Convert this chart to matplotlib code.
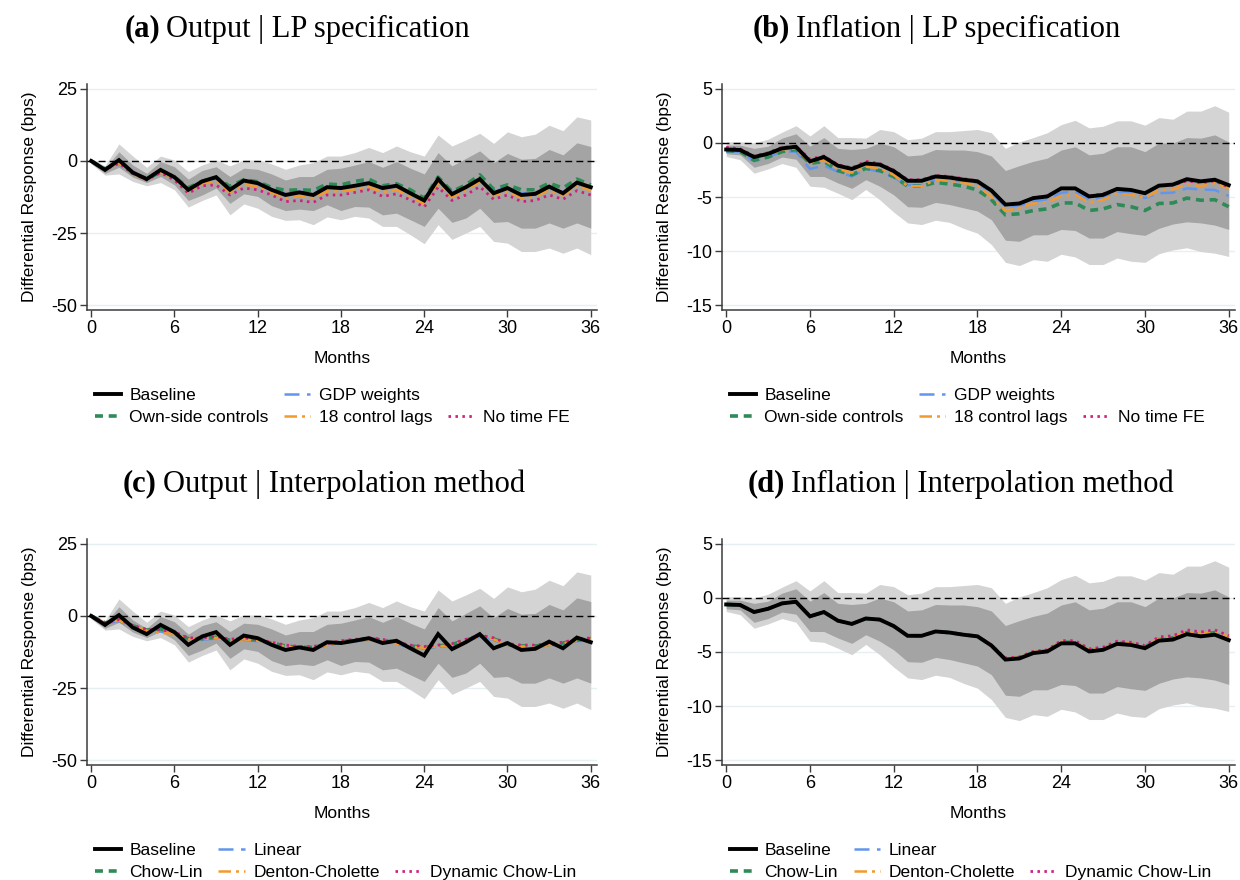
import matplotlib
matplotlib.use("Agg")
import matplotlib.pyplot as plt
from matplotlib.lines import Line2D
import numpy as np

plt.rcParams['font.family'] = ['Liberation Sans', 'DejaVu Sans']
plt.rcParams['axes.unicode_minus'] = False

months = np.arange(37)

# ---- Output (panels a, c): baseline and confidence bands
out_base = [0, -3.1, 0.3, -4.0, -6.3, -3.1, -5.6, -10.0, -7.1, -5.6, -10.0, -6.8, -7.7, -10.0, -11.8, -10.9, -11.8, -9.1,
            -9.4, -8.6, -7.7, -9.4, -8.6, -11.2, -13.7, -6.3, -11.5, -9.1, -6.3, -11.2, -9.4, -11.8, -11.4, -8.9, -11.2, -7.5, -9.1]
out_hi90 = [0.9, -1.7, 5.9, 1.7, -2.2, 1.7, 0.3, -3.7, -1.4, 0.3, -1.7, 0.3, 0.3, -1.0, -2.9, -1.4, -0.6, 1.7,
            1.7, 2.9, 4.7, 2.9, 5.2, 3.2, 1.7, 9.0, 5.2, 7.3, 9.6, 6.1, 10.1, 8.4, 9.3, 12.4, 10.5, 15.3, 14.2]
out_hi68 = [0.3, -2.5, 3.2, -1.4, -4.3, -0.2, -2.0, -6.3, -3.3, -2.0, -5.4, -2.5, -2.9, -4.5, -6.6, -5.4, -5.4, -2.9,
            -2.5, -1.4, -0.2, -2.2, -0.2, -2.5, -4.5, 2.9, -1.7, 0.9, 3.5, -0.6, 2.6, 0.6, 0.9, 4.0, 2.1, 6.3, 5.0]
out_lo68 = [-0.8, -4.3, -2.2, -5.6, -7.5, -5.4, -8.3, -13.7, -11.8, -9.4, -14.7, -11.4, -12.3, -15.5, -17.2, -16.7, -17.2, -15.2,
            -17.2, -15.8, -16.0, -18.7, -18.1, -20.4, -22.7, -16.4, -21.3, -19.8, -16.4, -21.3, -21.0, -23.3, -23.3, -21.5, -23.3, -21.5, -23.3]
out_lo90 = [-1.0, -4.9, -4.5, -7.1, -8.6, -7.5, -10.0, -16.0, -13.7, -11.8, -18.7, -14.9, -16.4, -19.2, -20.6, -20.4, -22.1, -19.4,
            -20.4, -19.2, -19.8, -22.7, -22.7, -25.6, -28.7, -22.1, -27.2, -25.0, -22.7, -27.9, -28.5, -31.4, -31.4, -30.2, -32.0, -30.2, -32.5]

# panel a alternatives
out_gdp = [0, -2.8, -1.0, -4.5, -6.2, -4.0, -5.8, -9.8, -7.2, -6.0, -9.5, -7.0, -7.5, -9.8, -11.2, -10.6, -11.2, -8.8,
           -9.0, -8.2, -7.5, -9.6, -8.6, -10.8, -12.8, -6.6, -11.0, -9.0, -6.5, -10.5, -9.2, -11.2, -11.0, -9.3, -10.8, -7.8, -9.2]
out_own = [0, -2.8, -0.5, -4.3, -6.0, -4.0, -5.5, -9.3, -7.0, -5.8, -8.8, -6.5, -7.2, -9.2, -10.2, -10.0, -10.2, -8.0,
           -8.3, -7.1, -6.3, -8.6, -7.9, -10.0, -12.9, -5.6, -10.6, -8.3, -4.8, -9.8, -8.3, -10.0, -10.0, -7.7, -9.4, -6.3, -8.3]
out_lags = [0, -3.0, -0.8, -4.5, -6.5, -4.0, -6.0, -10.5, -8.0, -6.8, -10.8, -8.2, -8.8, -11.0, -12.8, -12.0, -12.8, -10.5,
            -10.5, -9.8, -9.0, -10.8, -10.0, -12.2, -15.0, -7.5, -12.5, -10.2, -7.2, -12.0, -10.5, -12.8, -12.4, -10.0, -12.0, -8.5, -10.2]
out_nofe = [0, -3.0, -0.8, -4.3, -6.6, -4.0, -6.6, -11.2, -8.6, -8.3, -11.8, -9.4, -10.0, -11.8, -14.1, -13.7, -14.4, -11.8,
            -11.8, -10.9, -10.0, -12.3, -11.4, -13.5, -16.0, -9.1, -13.7, -11.8, -8.9, -13.3, -11.8, -14.1, -13.7, -11.8, -13.3, -10.3, -11.8]

# panel c alternatives
out_linear = [0, -2.6, -1.8, -3.8, -5.3, -5.4, -6.3, -8.2, -8.3, -7.8, -8.8, -8.3, -8.8, -9.8, -10.8, -11.2, -11.2, -10.2,
              -9.3, -8.8, -8.3, -8.8, -9.8, -10.8, -11.3, -10.8, -10.3, -8.8, -7.3, -8.3, -10.2, -10.8, -10.8, -10.3, -9.8, -8.8, -8.4]
out_chowlin = [0, -2.4, -1.4, -3.4, -4.9, -4.5, -5.9, -7.9, -7.9, -7.4, -8.4, -7.9, -8.4, -9.4, -10.4, -10.9, -10.9, -9.9,
               -8.9, -8.4, -7.9, -8.4, -9.4, -10.4, -10.9, -10.4, -9.9, -8.4, -6.9, -7.9, -9.9, -10.4, -10.4, -9.9, -9.4, -8.4, -7.9]
out_denton = [0, -2.5, -1.6, -3.6, -5.1, -5.9, -6.1, -8.1, -8.1, -7.6, -8.6, -8.1, -8.6, -9.6, -10.6, -11.1, -11.1, -10.1,
              -9.1, -8.6, -8.1, -8.6, -9.6, -10.6, -11.1, -10.6, -10.1, -8.6, -7.1, -8.1, -10.1, -10.6, -10.6, -10.1, -9.6, -8.6, -8.1]
out_dynamic = [0, -2.3, -1.3, -3.3, -4.7, -4.8, -5.6, -7.6, -7.6, -7.1, -8.1, -7.6, -8.1, -9.1, -10.1, -10.6, -10.6, -9.6,
               -8.6, -8.1, -7.6, -8.1, -9.1, -10.1, -10.6, -10.1, -9.6, -8.1, -6.6, -7.6, -9.6, -10.1, -10.1, -9.6, -9.1, -8.1, -7.6]

# ---- Inflation (panels b, d)
inf_base = [-0.6, -0.65, -1.3, -1.0, -0.5, -0.35, -1.7, -1.3, -2.1, -2.4, -1.9, -2.0, -2.6, -3.5, -3.5, -3.1, -3.2, -3.4,
            -3.55, -4.4, -5.7, -5.6, -5.1, -4.95, -4.2, -4.2, -4.95, -4.8, -4.25, -4.35, -4.65, -3.95, -3.85, -3.35, -3.55, -3.4, -3.9]
inf_hi90 = [0.1, 0.1, 0.0, 0.35, 1.0, 1.6, 0.65, 1.6, 0.5, 0.5, 0.45, 1.25, 1.05, 0.3, 0.45, 1.05, 1.05, 1.15,
            1.25, 0.95, -0.5, 0.1, 0.5, 0.95, 1.7, 2.1, 1.4, 1.55, 2.05, 2.05, 1.65, 2.35, 2.2, 2.95, 2.95, 3.45, 2.85]
inf_hi68 = [-0.2, -0.2, -0.5, -0.3, 0.45, 0.85, -0.3, 0.5, -0.5, -0.6, -0.5, 0.0, -0.35, -1.2, -1.1, -0.6, -0.65, -0.65,
            -0.8, -1.2, -2.55, -2.1, -1.7, -1.4, -0.65, -0.35, -1.1, -0.95, -0.35, -0.35, -0.8, 0.0, 0.0, 0.5, 0.45, 0.75, 0.1]
inf_lo68 = [-1.0, -1.1, -2.25, -1.9, -1.3, -1.5, -3.1, -3.1, -3.7, -4.2, -3.4, -4.0, -4.8, -5.9, -5.95, -5.5, -5.7, -6.0,
            -6.3, -7.1, -9.0, -9.1, -8.5, -8.5, -8.0, -8.1, -8.8, -8.8, -8.2, -8.4, -8.55, -7.9, -7.5, -7.3, -7.4, -7.6, -8.0]
inf_lo90 = [-1.25, -1.55, -2.8, -2.4, -1.9, -2.25, -4.0, -4.1, -4.65, -5.25, -4.3, -5.25, -6.4, -7.4, -7.55, -7.15, -7.35, -7.9,
            -8.35, -9.4, -11.05, -11.35, -10.8, -10.95, -10.3, -10.55, -11.25, -11.25, -10.65, -10.95, -11.05, -10.25, -9.9, -9.7, -10.05, -10.2, -10.5]

# panel b alternatives
inf_gdp = [-0.8, -0.8, -1.7, -1.3, -0.8, -0.8, -2.4, -2.1, -2.65, -3.1, -2.4, -2.65, -3.2, -3.9, -3.9, -3.4, -3.4, -3.6,
           -3.7, -4.65, -5.9, -5.8, -5.4, -5.2, -4.6, -4.5, -5.25, -5.0, -4.5, -4.65, -5.1, -4.65, -4.6, -4.2, -4.3, -4.35, -4.9]
inf_own = [-0.7, -0.8, -1.6, -1.3, -0.8, -0.6, -1.9, -1.7, -2.55, -2.95, -2.35, -2.55, -3.1, -4.0, -4.0, -3.65, -3.8, -4.0,
           -4.35, -5.25, -6.65, -6.55, -6.25, -6.1, -5.55, -5.55, -6.25, -6.1, -5.7, -5.9, -6.25, -5.6, -5.55, -5.1, -5.3, -5.25, -5.9]
inf_lags = [-0.5, -0.6, -1.3, -1.1, -0.6, -0.5, -1.8, -1.55, -2.4, -2.75, -2.2, -2.35, -2.95, -4.0, -4.0, -3.4, -3.5, -3.7,
            -3.9, -5.0, -6.3, -6.0, -5.6, -5.5, -4.9, -4.8, -5.5, -5.25, -4.7, -4.8, -5.1, -4.35, -4.3, -3.8, -4.0, -3.7, -4.2]
inf_nofe = [-0.4, -0.55, -1.2, -0.9, -0.4, -0.3, -1.5, -1.2, -2.0, -2.3, -1.7, -1.9, -2.5, -3.4, -3.4, -3.0, -3.1, -3.3,
            -3.5, -4.4, -5.7, -5.6, -5.1, -4.9, -4.2, -4.2, -4.9, -4.7, -4.3, -4.4, -4.6, -4.0, -3.9, -3.5, -3.7, -3.5, -4.1]

# panel d alternatives
inf_linear = [-0.6, -0.65, -1.3, -1.0, -0.5, -0.35, -1.7, -1.3, -2.1, -2.4, -1.9, -2.0, -2.6, -3.5, -3.5, -3.1, -3.2, -3.4,
              -3.55, -4.4, -5.65, -5.55, -5.05, -4.9, -4.1, -4.1, -4.85, -4.7, -4.15, -4.25, -4.55, -3.8, -3.7, -3.2, -3.4, -3.2, -3.7]
inf_chowlin = [-0.6, -0.65, -1.3, -1.0, -0.5, -0.35, -1.7, -1.3, -2.1, -2.4, -1.9, -2.0, -2.6, -3.5, -3.5, -3.1, -3.2, -3.4,
               -3.55, -4.4, -5.65, -5.55, -5.05, -4.9, -4.1, -4.1, -4.85, -4.7, -4.15, -4.25, -4.55, -3.8, -3.7, -3.2, -3.4, -3.2, -3.7]
inf_denton = [-0.6, -0.65, -1.3, -1.0, -0.5, -0.35, -1.7, -1.3, -2.1, -2.4, -1.9, -2.0, -2.6, -3.5, -3.5, -3.1, -3.2, -3.4,
              -3.55, -4.4, -5.6, -5.5, -5.0, -4.85, -4.05, -4.05, -4.8, -4.65, -4.1, -4.2, -4.5, -3.75, -3.65, -3.1, -3.3, -3.1, -3.6]
inf_dynamic = [-0.6, -0.65, -1.3, -1.0, -0.5, -0.35, -1.7, -1.3, -2.1, -2.4, -1.9, -2.0, -2.6, -3.5, -3.5, -3.1, -3.2, -3.4,
               -3.5, -4.35, -5.55, -5.45, -4.95, -4.8, -3.95, -3.95, -4.7, -4.55, -4.0, -4.1, -4.4, -3.6, -3.5, -2.95, -3.15, -2.95, -3.5]

labels_lp = ["Baseline", "GDP weights", "Own-side controls", "18 control lags", "No time FE"]
labels_int = ["Baseline", "Linear", "Chow-Lin", "Denton-Cholette", "Dynamic Chow-Lin"]

C_BLUE = '#6495ED'
C_GREEN = '#2E8B57'
C_ORANGE = '#F39A2E'
C_PINK = '#D0207E'
LIGHT = '#d4d4d4'
DARK = '#a4a4a4'
AXC = '#3c3c3c'

styles = [
    dict(color=C_BLUE, lw=1.8, dashes=(6, 3)),
    dict(color=C_GREEN, lw=2.6, dashes=(2.2, 1.6)),
    dict(color=C_ORANGE, lw=1.8, dashes=(5, 2, 1.2, 2)),
    dict(color=C_PINK, lw=2.0, dashes=(0.9, 1.6)),
]

fig = plt.figure(figsize=(12.4, 8.8), dpi=100)


def make_ax(left_px, top_px, right_px, bottom_px):
    return fig.add_axes([left_px / 1240, 1 - bottom_px / 880,
                         (right_px - left_px) / 1240, (bottom_px - top_px) / 880])


def panel(ax, base, bands, alts, labels, yticks, ylim):
    hi90, hi68, lo68, lo90 = bands
    ax.fill_between(months, lo90, hi90, color=LIGHT, lw=0, zorder=1)
    ax.fill_between(months, lo68, hi68, color=DARK, lw=0, zorder=2)
    ax.axhline(0, color='black', lw=1.0, ls=(0, (5, 3)), zorder=3)
    handles = []
    hb, = ax.plot(months, base, color='black', lw=2.8, zorder=10, solid_joinstyle='miter')
    handles.append(hb)
    for a, st in zip(alts, styles):
        h, = ax.plot(months, a, zorder=5, **st)
        handles.append(h)
    ax.set_xlim(-0.3, 36.45)
    ax.set_ylim(*ylim)
    ax.set_xticks(range(0, 37, 6))
    ax.set_yticks(yticks)
    ax.grid(axis='y', color='#e6eff1', lw=1.0, zorder=0)
    ax.set_axisbelow(True)
    for s in ['top', 'right']:
        ax.spines[s].set_visible(False)
    for s in ['left', 'bottom']:
        ax.spines[s].set_color(AXC)
        ax.spines[s].set_linewidth(1.1)
    ax.tick_params(colors=AXC, labelcolor='black', labelsize=13, length=5, width=1.0, pad=2)
    ax.set_xlabel("Months", fontsize=12.5, labelpad=10)
    ax.set_ylabel("Differential Response (bps)", fontsize=12.5, labelpad=10)
    # legend: row-major layout with an empty slot in row 1, col 3
    blank = Line2D([], [], color='none')
    order = [handles[0], handles[2], handles[1], handles[3], blank, handles[4]]
    labs = [labels[0], labels[2], labels[1], labels[3], "", labels[4]]
    ax.legend(order, labs, ncol=3, loc='upper left', bbox_to_anchor=(0.015, -0.343),
              frameon=False, fontsize=12.5, handlelength=1.5, handletextpad=0.5,
              columnspacing=0.9, labelspacing=0.4, borderaxespad=0, borderpad=0)


ax_a = make_ax(87, 84, 597, 310)
ax_b = make_ax(722, 84, 1235, 310)
ax_c = make_ax(87, 539, 597, 765)
ax_d = make_ax(722, 539, 1235, 765)

panel(ax_a, out_base, (out_hi90, out_hi68, out_lo68, out_lo90),
      [out_gdp, out_own, out_lags, out_nofe], labels_lp, [-50, -25, 0, 25], (-51.7, 26.7))
panel(ax_b, inf_base, (inf_hi90, inf_hi68, inf_lo68, inf_lo90),
      [inf_gdp, inf_own, inf_lags, inf_nofe], labels_lp, [-15, -10, -5, 0, 5], (-15.46, 5.46))
panel(ax_c, out_base, (out_hi90, out_hi68, out_lo68, out_lo90),
      [out_linear, out_chowlin, out_denton, out_dynamic], labels_int, [-50, -25, 0, 25], (-51.7, 26.7))
panel(ax_d, inf_base, (inf_hi90, inf_hi68, inf_lo68, inf_lo90),
      [inf_linear, inf_chowlin, inf_denton, inf_dynamic], labels_int, [-15, -10, -5, 0, 5], (-15.46, 5.46))

titles = [("(a)", "Output | LP specification", 160, 29),
          ("(b)", "Inflation | LP specification", 790, 29),
          ("(c)", "Output | Interpolation method", 157, 484),
          ("(d)", "Inflation | Interpolation method", 785, 484)]
for tag, txt, xs, ys in titles:
    fig.text(xs / 1240, 1 - ys / 880, tag, ha='right', va='center', fontsize=22,
             fontweight='bold', family=['Liberation Serif', 'DejaVu Serif'])
    fig.text((xs + 6) / 1240, 1 - ys / 880, txt, ha='left', va='center', fontsize=22,
             family=['Liberation Serif', 'DejaVu Serif'])

fig.savefig("out.png", dpi=100)
